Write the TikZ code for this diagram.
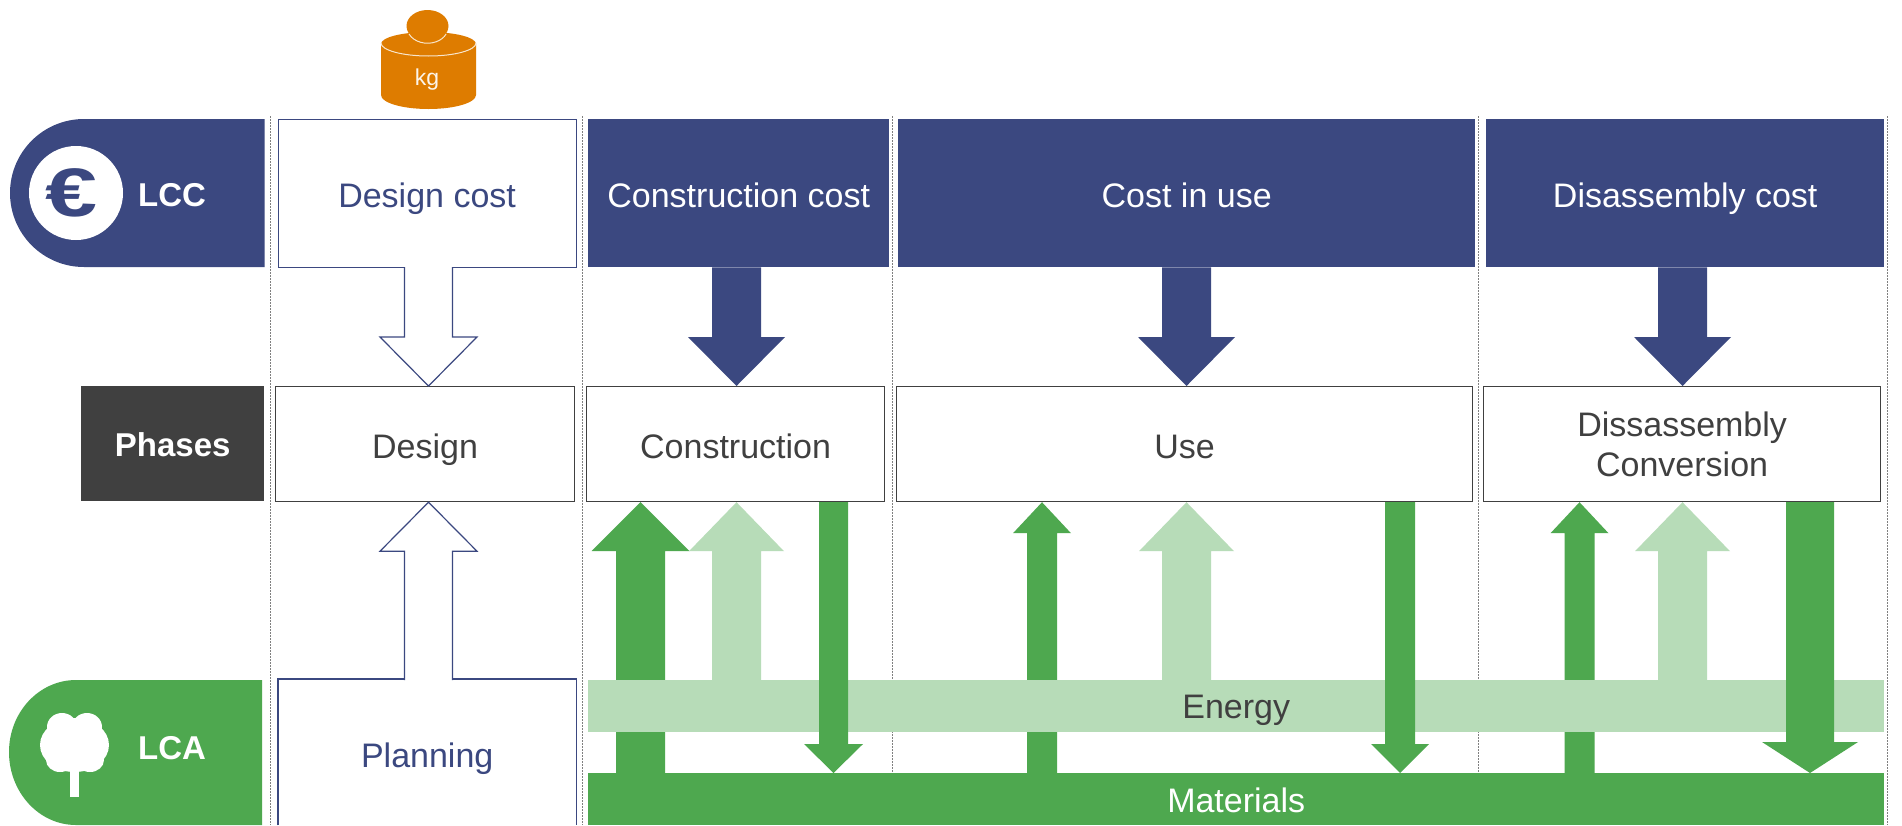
\documentclass[tikz,border=0pt]{standalone}
\usepackage{fontspec}
\setmainfont{Liberation Sans}
\usetikzlibrary{calc,positioning}
\definecolor{navy}{HTML}{3B4880}
\definecolor{dk}{HTML}{404040}
\definecolor{gn}{HTML}{4EA84F}
\definecolor{lg}{HTML}{B7DCB8}
\definecolor{org}{HTML}{DE7C00}
\newcommand{\fz}[1]{\fontsize{#1}{#1}\selectfont}
\tikzset{
  x=1pt,y=-1pt,
  boldlbl/.style={font=\fz{33}\bfseries,text=white,inner sep=0pt},
  box/.style={draw=#1,line width=1.2pt,fill=white,anchor=north west,inner sep=0pt,align=center,font=\fz{34}},
  lowtext/.style={text height=35pt,text depth=7pt},
  filled/.style={fill=navy,text=white,anchor=north west,inner sep=0pt,font=\fz{34},lowtext},
  band/.style={anchor=north west,inner sep=0pt,font=\fz{34},text depth=7pt},
  sep/.style={draw=gray,line width=1pt,dash pattern=on 1.5pt off 1.5pt},
  navyarrow/.style={fill=navy},
  gnarrow/.style={fill=gn},
  lgarrow/.style={fill=lg},
  hollow/.style={draw=navy,line width=1.2pt,fill=white},
}
% #1 style, #2 x coordinate name, #3 from anchor, #4 to anchor, #5 stem half, #6 head half, #7 signed head length
\newcommand{\fatarrow}[7]{%
  \path[#1] let \p1=(#2 |- #3), \p2=(#2 |- #4) in
    (\x1-#5,\y1) -- (\x1-#5,\y2+#7) -- (\x1-#6,\y2+#7) -- (\x2,\y2)
    -- (\x1+#6,\y2+#7) -- (\x1+#5,\y2+#7) -- (\x1+#5,\y1);}
\begin{document}
\begin{tikzpicture}
\useasboundingbox (0,0) rectangle (1902,825);
\fill[white] (0,0) rectangle (1902,825);
% separators
\coordinate (s1) at (270,116); \coordinate (s1b) at (270,825);
\coordinate (s2) at (582.5,116); \coordinate (s2b) at (582.5,825);
\coordinate (s3) at (892,116); \coordinate (s3b) at (892,825);
\coordinate (s4) at (1478,116); \coordinate (s4b) at (1478,825);
\coordinate (s5) at (1887,116); \coordinate (s5b) at (1887,825);
\foreach \s in {s1,s2,s3,s4,s5} \draw[sep] (\s) -- (\s b);
% arrow x positions
\coordinate (xd) at (428.5,0);
\coordinate (xa) at (736.5,0);
\coordinate (xb) at (1186.5,0);
\coordinate (xc) at (1682.5,0);
\coordinate (u1) at (640.5,0);
\coordinate (u2) at (1042,0);
\coordinate (u3) at (1579.5,0);
\coordinate (d1) at (833.5,0);
\coordinate (d2) at (1400,0);
\coordinate (d3) at (1810,0);
% left bands
\fill[navy] (264.5,119) -- (84,119) arc[start angle=270,end angle=90,x radius=74,y radius=74] -- (264.5,267) -- cycle;
\fill[white] (76,193) circle[radius=47];
\node[font=\fz{78}\bfseries,text=navy,inner sep=0pt] (euro) at (72,193) {\scalebox{1.2}[0.88]{€}};
\node[boldlbl] (lcc) at (172,195) {LCC};
\fill[gn] (262,680) -- (76,680) arc[start angle=270,end angle=180,x radius=67,y radius=72] arc[start angle=180,end angle=90,x radius=67,y radius=73] -- (262,825) -- cycle;
\fill[white] (70,770) rectangle (79,797);
\fill[white] (74.5,745) ellipse[x radius=34.5,y radius=27];
\fill[white] (62,727) ellipse[x radius=15,y radius=14];
\fill[white] (87,727) ellipse[x radius=15,y radius=14];
\fill[white] (60,760) ellipse[x radius=14,y radius=12];
\fill[white] (90,760) ellipse[x radius=14,y radius=12];
\node[boldlbl] (lca) at (172,748) {LCA};
\node[fill=dk,text=white,anchor=north west,inner sep=0pt,minimum width=183pt,minimum height=115pt,font=\fz{33}\bfseries,text height=33pt,text depth=7pt] (phases) at (81,386) {Phases};
% weight
\fill[org] (381,44) -- (381,95) arc[start angle=180,end angle=0,x radius=47.5,y radius=14] -- (476,44) arc[start angle=0,end angle=-180,x radius=47.5,y radius=12] -- cycle;
\draw[white!80!org,line width=1pt] (381,43) arc[start angle=180,end angle=0,x radius=47.5,y radius=13];
\fill[org] (427.5,26) ellipse[x radius=21,y radius=16];
\draw[white!80!org,line width=1pt] (409,34) arc[start angle=155,end angle=25,x radius=20.5,y radius=16];
\node[font=\fz{23},text=white!92!org,inner sep=0pt] (kg) at (427,80) {kg};
% top row
\node[box=navy,text=navy,minimum width=298pt,minimum height=148pt,lowtext] (dcost) at (277.5,119) {Design cost};
\node[filled,minimum width=301pt,minimum height=148pt] (ccost) at (588,119) {Construction cost};
\node[filled,minimum width=577pt,minimum height=148pt] (ucost) at (898,119) {Cost in use};
\node[filled,minimum width=398pt,minimum height=148pt] (xcost) at (1486,119) {Disassembly cost};
% phases row
\node[box=dk,text=dk,minimum width=299pt,minimum height=115pt,lowtext] (design) at (275,386) {Design};
\node[box=dk,text=dk,minimum width=298pt,minimum height=115pt,lowtext] (constr) at (586,386) {Construction};
\node[box=dk,text=dk,minimum width=576pt,minimum height=115pt,lowtext] (use) at (896,386) {Use};
\node[box=dk,text=dk,minimum width=397pt,minimum height=115pt] (diss) at (1483,386) {Dissassembly\\[6pt]Conversion};
% planning
\node[fill=white,anchor=north west,inner sep=0pt,minimum width=298pt,minimum height=146pt,font=\fz{34},text=navy,text height=37pt,text depth=7pt] (plan) at (278,679) {Planning};
\draw[navy,line width=1.2pt] (plan.south west) -- (plan.north west) -- (plan.north east) -- (plan.south east);
\coordinate (dbase) at ($(dcost.south)+(0,-1.2)$);
\coordinate (pbase) at ($(plan.north)+(0,1.2)$);
% hollow arrows
\fatarrow{hollow}{xd}{dbase}{design.north}{24pt}{48.5pt}{49pt}
\fatarrow{hollow}{xd}{pbase}{design.south}{24pt}{48.5pt}{-49pt}
% navy arrows
\fatarrow{navyarrow}{xa}{ccost.south}{constr.north}{24.5pt}{48.5pt}{49pt}
\fatarrow{navyarrow}{xb}{ucost.south}{use.north}{24.5pt}{48.5pt}{49pt}
\fatarrow{navyarrow}{xc}{xcost.south}{diss.north}{24.5pt}{48.5pt}{49pt}
% materials band
\node[band,fill=gn,text=white,minimum width=1296pt,minimum height=52pt,text height=33pt] (materials) at (588,773) {Materials};
% dark up arrows pass behind the energy band
\fatarrow{gnarrow}{u1}{materials.north}{constr.south}{24.5pt}{49pt}{-49pt}
\fatarrow{gnarrow}{u2}{materials.north}{use.south}{15pt}{29pt}{-31pt}
\fatarrow{gnarrow}{u3}{materials.north}{diss.south}{15pt}{29pt}{-31pt}
% energy band
\node[band,fill=lg,text=dk,minimum width=1296pt,minimum height=52pt,text height=31pt] (energy) at (588,680) {Energy};
% light up arrows
\fatarrow{lgarrow}{xa}{energy.north}{constr.south}{24.5pt}{47.5pt}{-49pt}
\fatarrow{lgarrow}{xb}{energy.north}{use.south}{24.5pt}{47.5pt}{-49pt}
\fatarrow{lgarrow}{xc}{energy.north}{diss.south}{24.5pt}{47.5pt}{-49pt}
% down arrows
\fatarrow{gnarrow}{d1}{constr.south}{materials.north}{14.5pt}{29.5pt}{29pt}
\fatarrow{gnarrow}{d2}{use.south}{materials.north}{15pt}{29pt}{29pt}
\fatarrow{gnarrow}{d3}{diss.south}{materials.north}{24pt}{48pt}{31pt}
\end{tikzpicture}
\end{document}
